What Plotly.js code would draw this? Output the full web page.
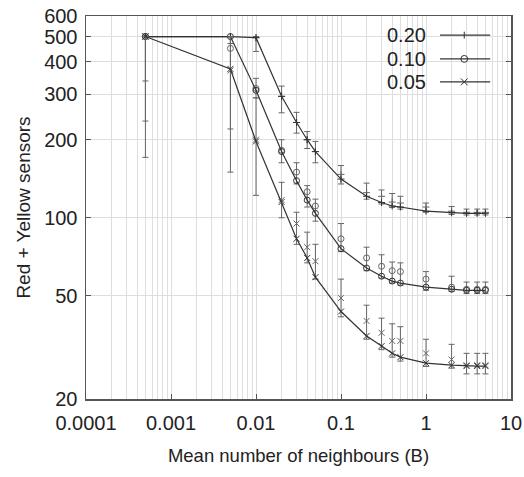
<!DOCTYPE html>
<html>
<head>
<meta charset="utf-8">
<script src="https://cdn.plot.ly/plotly-3.0.1.min.js"></script>
<style>html,body{margin:0;padding:0;background:#fff;}#chart{width:524px;height:477px;}</style>
</head>
<body>
<div id="chart"></div>
<script>
// Mean number of neighbours (B)
const xVals = [0.0005, 0.005, 0.01, 0.02, 0.03, 0.04, 0.05, 0.1, 0.2, 0.3, 0.4, 0.5, 1, 2, 3, 4, 5];

// Series 0.20
const line20 = [500, 500, 495, 294, 233, 200, 180, 141, 121, 114.5, 111, 110, 106, 104.5, 104, 104, 104];
const mean20 = [500, 500, 495, 294, 233, 200, 180, 147, 125, 121, 115, 114, 110, 106, 105, 105, 105];
const hi20   = [500, 500, 500, 322, 255, 215, 197, 159, 136, 128, 124, 121, 114, 110.5, 108, 108, 108];
const lo20   = [337, 470, 438, 254, 212, 185, 163, 135, 118, 113, 109.5, 108, 105, 103, 102.5, 102.5, 102.5];

// Series 0.10
const line10 = [500, 500, 310, 180, 139, 117, 104, 76, 64, 59.5, 57, 56, 54, 53, 52.5, 52.5, 52.5];
const mean10 = [500, 450, 315, 182, 150, 126, 111, 83, 70, 65, 62.5, 62, 58, 54, 53, 53, 53];
const hi10   = [500, 500, 345, 200, 163, 133, 118, 95, 77, 72, 67.5, 67, 62, 59.5, 56.5, 56.5, 56.5];
const lo10   = [236, 220, 290, 163, 135, 110, 97, 74, 62.5, 58.5, 56, 55, 52.5, 52, 51, 51, 51];

// Series 0.05
const line05 = [500, 375, 197, 115, 83, 70, 59, 43.5, 35, 32, 30, 29, 27.5, 27, 26.8, 26.8, 26.8];
const mean05 = [500, 370, 200, 117, 95, 77, 68, 49, 40, 36, 33.5, 33.5, 30, 28.4, 27, 27, 27];
const hi05   = [500, 500, 290, 137, 105, 88, 79, 58, 46, 41, 39, 38, 34, 32.5, 30, 30, 30];
const lo05   = [171, 150, 122, 100, 79, 67, 58, 41.5, 34, 31, 29, 28, 26.7, 26.3, 25, 25, 25];

const seriesNames = ['0.20', '0.10', '0.05'];
const xTickVals = [0.0001, 0.001, 0.01, 0.1, 1, 10];
const xTickText = ['0.0001', '0.001', '0.01', '0.1', '1', '10'];
const yTickVals = [20, 50, 100, 200, 300, 400, 500, 600];
const yTickText = ['20', '50', '100', '200', '300', '400', '500', '600'];

const FONT = 'Liberation Sans, Arial, sans-serif';
const LINE_COLOR = '#333';
const ERR_COLOR = '#666';
const GRID = '#dedede';

const series = [
  {name: seriesNames[0], line: line20, mean: mean20, hi: hi20, lo: lo20, symbol: 'cross-thin-open', size: 5},
  {name: seriesNames[1], line: line10, mean: mean10, hi: hi10, lo: lo10, symbol: 'circle-open', size: 6},
  {name: seriesNames[2], line: line05, mean: mean05, hi: hi05, lo: lo05, symbol: 'x-thin-open', size: 6}
];

const traces = [];
series.forEach(s => {
  traces.push({
    x: xVals, y: s.mean, type: 'scatter', mode: 'markers', showlegend: false, hoverinfo: 'skip',
    marker: {symbol: s.symbol, size: s.size, color: ERR_COLOR, line: {color: ERR_COLOR, width: 1}},
    error_y: {type: 'data', symmetric: false,
      array: s.hi.map((v, i) => v - s.mean[i]),
      arrayminus: s.mean.map((v, i) => v - s.lo[i]),
      color: ERR_COLOR, thickness: 1, width: 3}
  });
  traces.push({
    x: xVals, y: s.line, type: 'scatter', mode: 'lines+markers', name: s.name, showlegend: false,
    line: {color: LINE_COLOR, width: 1.2},
    marker: {symbol: s.symbol, size: s.size, color: LINE_COLOR, line: {color: LINE_COLOR, width: 1}}
  });
});

// legend drawn as text + sample lines (paper coordinates)
const legRows = [0.950, 0.888, 0.828];
const annotations = seriesNames.map((n, i) => ({
  xref: 'paper', yref: 'paper', x: 0.805, y: legRows[i], xanchor: 'right', yanchor: 'middle',
  text: n, showarrow: false, font: {family: FONT, size: 20, color: '#222'}
}));
const shapes = [];
legRows.forEach((yy, i) => {
  shapes.push({type: 'line', xref: 'paper', yref: 'paper', x0: 0.833, x1: 0.951, y0: yy, y1: yy,
    line: {color: LINE_COLOR, width: 1.2}});
});
const mx = 0.890, dx = 0.008, dy = 0.009;
// 0.20: small plus
shapes.push({type: 'line', xref: 'paper', yref: 'paper', x0: mx, x1: mx, y0: legRows[0] - dy, y1: legRows[0] + dy, line: {color: LINE_COLOR, width: 1}});
// 0.10: small circle
shapes.push({type: 'circle', xref: 'paper', yref: 'paper', x0: mx - dx, x1: mx + dx, y0: legRows[1] - dy, y1: legRows[1] + dy, line: {color: LINE_COLOR, width: 1}});
// 0.05: small x
shapes.push({type: 'line', xref: 'paper', yref: 'paper', x0: mx - dx, x1: mx + dx, y0: legRows[2] - dy, y1: legRows[2] + dy, line: {color: LINE_COLOR, width: 1}});
shapes.push({type: 'line', xref: 'paper', yref: 'paper', x0: mx - dx, x1: mx + dx, y0: legRows[2] + dy, y1: legRows[2] - dy, line: {color: LINE_COLOR, width: 1}});

// minor grid positions (1..9 per decade)
const xGrid = [];
for (let e = -4; e < 1; e++) for (let k = 1; k < 10; k++) xGrid.push(k * Math.pow(10, e));
xGrid.push(10);

const layout = {
  width: 524, height: 477,
  margin: {l: 86, r: 13, t: 16, b: 78},
  paper_bgcolor: '#fff', plot_bgcolor: '#fff',
  font: {family: FONT, color: '#222'},
  showlegend: false,
  xaxis: {
    type: 'log', range: [-4, 1],
    tickvals: xTickVals, ticktext: xTickText,
    tickfont: {family: FONT, size: 20, color: '#222'},
    ticklabelstandoff: 5,
    showgrid: true, gridcolor: GRID, gridwidth: 1,
    minor: {tickvals: xGrid, showgrid: true, gridcolor: GRID, gridwidth: 1, ticks: ''},
    showline: true, linecolor: '#555', linewidth: 1.5, mirror: true,
    ticks: 'inside', ticklen: 5, tickcolor: '#555',
    zeroline: false,
    title: {text: 'Mean number of neighbours (B)', font: {family: FONT, size: 18.5, color: '#222'}, standoff: 16}
  },
  yaxis: {
    type: 'log', range: [Math.log10(20), Math.log10(600)],
    tickvals: yTickVals, ticktext: yTickText,
    tickfont: {family: FONT, size: 20, color: '#222'},
    showgrid: true, gridcolor: GRID, gridwidth: 1,
    showline: true, linecolor: '#555', linewidth: 1.5, mirror: 'ticks',
    ticks: 'inside', ticklen: 5, tickcolor: '#555',
    ticklabelstandoff: 3,
    zeroline: false,
    title: {text: 'Red + Yellow sensors', font: {family: FONT, size: 19, color: '#222'}, standoff: 8}
  },
  annotations: annotations,
  shapes: shapes
};

Plotly.newPlot('chart', traces, layout, {displayModeBar: false, staticPlot: true});
</script>
</body>
</html>
